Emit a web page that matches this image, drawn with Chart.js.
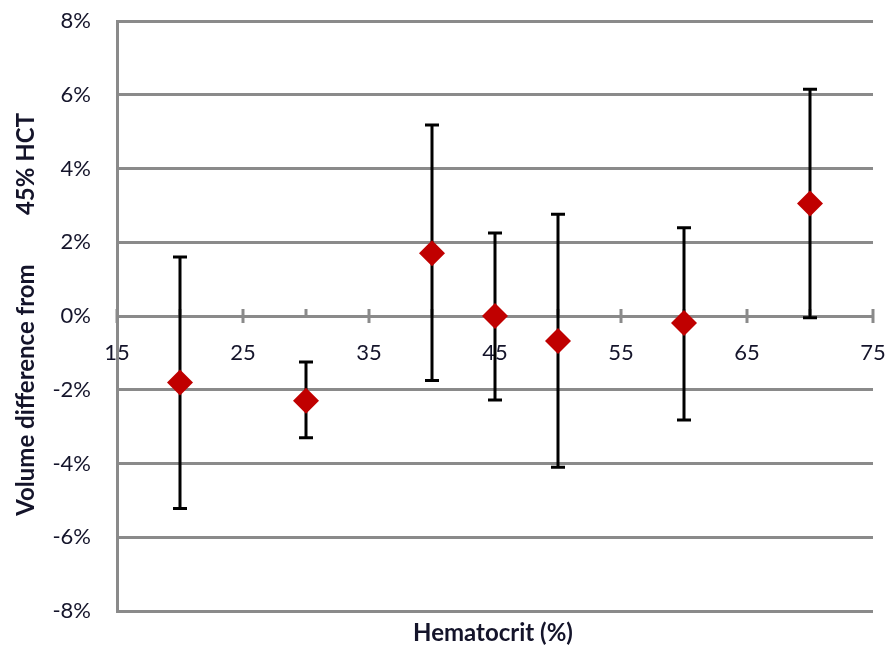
<!DOCTYPE html>
<html>
<head>
<meta charset="utf-8">
<script src="https://cdn.jsdelivr.net/npm/chart.js@4.4.1/dist/chart.umd.min.js"></script>
<style>
  html, body { margin: 0; padding: 0; background: #fff; }
  #wrap { width: 886px; height: 646px; }
</style>
</head>
<body>
<div id="wrap"><canvas id="hctChart" width="886" height="646"></canvas></div>
<script>
// Hematocrit (%) vs volume difference from 45% HCT (in %)
const hct = [20, 30, 40, 45, 50, 60, 70];
const volDiff = [-1.8, -2.3, 1.7, 0.0, -0.68, -0.19, 3.05];
const errUpper = [1.6, -1.25, 5.18, 2.25, 2.76, 2.39, 6.15];
const errLower = [-5.22, -3.3, -1.75, -2.28, -4.1, -2.82, -0.05];
const xTicks = [15, 25, 35, 45, 55, 65, 75];
const xMinorTicks = [20, 30, 40, 50, 60, 70];
const yTicks = [-8, -6, -4, -2, 0, 2, 4, 6, 8];

const GRID = '#8a8a8a';
const TEXT = '#14142a';

// error bars + x axis tick marks + titles
const extras = {
  id: 'extras',
  beforeDatasetsDraw(chart) {
    const { ctx, scales: { x, y } } = chart;
    const y0 = y.getPixelForValue(0);
    ctx.save();
    ctx.strokeStyle = GRID;
    ctx.lineWidth = 3;
    xTicks.forEach(v => {
      const px = x.getPixelForValue(v);
      ctx.beginPath(); ctx.moveTo(px, y0 - 7); ctx.lineTo(px, y0 + 7); ctx.stroke();
    });
    xMinorTicks.forEach(v => {
      const px = x.getPixelForValue(v);
      ctx.beginPath(); ctx.moveTo(px, y0 - 7); ctx.lineTo(px, y0); ctx.stroke();
    });

    ctx.strokeStyle = '#000';
    ctx.lineWidth = 3;
    hct.forEach((h, i) => {
      const px = x.getPixelForValue(h);
      const top = y.getPixelForValue(errUpper[i]);
      const bot = y.getPixelForValue(errLower[i]);
      ctx.beginPath();
      ctx.moveTo(px, top); ctx.lineTo(px, bot);
      ctx.moveTo(px - 7, top); ctx.lineTo(px + 7, top);
      ctx.moveTo(px - 7, bot); ctx.lineTo(px + 7, bot);
      ctx.stroke();
    });
    ctx.restore();
  },
  afterDraw(chart) {
    const { ctx, chartArea } = chart;
    ctx.save();
    ctx.fillStyle = TEXT;
    ctx.font = 'bold 24px Lato';
    ctx.textAlign = 'center';
    ctx.textBaseline = 'middle';
    ctx.fillText('Hematocrit (%)', (chartArea.left + chartArea.right) / 2 - 2, 633);

    ctx.translate(26, 0);
    ctx.rotate(-Math.PI / 2);
    ctx.fillText('Volume difference from', -390, 0);
    ctx.fillText('45% HCT', -164, 0);
    ctx.restore();
  }
};

Chart.defaults.font.family = 'Lato';
Chart.defaults.color = TEXT;

new Chart(document.getElementById('hctChart').getContext('2d'), {
  type: 'scatter',
  data: {
    datasets: [{
      data: hct.map((h, i) => ({ x: h, y: volDiff[i] })),
      pointStyle: 'rectRot',
      pointRadius: 13,
      backgroundColor: '#c00000',
      borderColor: '#c00000',
      borderWidth: 0
    }]
  },
  options: {
    responsive: false,
    animation: false,
    layout: { padding: { left: 0, top: 21, right: 13, bottom: 35 } },
    plugins: { legend: { display: false }, tooltip: { enabled: false } },
    scales: {
      x: {
        type: 'linear',
        min: 15,
        max: 75,
        position: { y: 0 },
        afterBuildTicks: s => { s.ticks = xTicks.map(v => ({ value: v })); },
        afterFit: s => { s.paddingLeft = 0; s.paddingRight = 0; },
        ticks: { font: { size: 22 }, padding: 24, maxRotation: 0 },
        grid: { display: false, drawTicks: false },
        border: { display: false }
      },
      y: {
        min: -8,
        max: 8,
        afterBuildTicks: s => { s.ticks = yTicks.map(v => ({ value: v })); },
        afterFit: s => { s.width = 117; s.paddingTop = 0; s.paddingBottom = 0; },
        ticks: { font: { size: 22 }, padding: 26, callback: v => v + '%' },
        grid: { color: GRID, lineWidth: 3, drawTicks: false },
        border: { color: GRID, width: 3 }
      }
    }
  },
  plugins: [extras]
});
</script>
</body>
</html>
